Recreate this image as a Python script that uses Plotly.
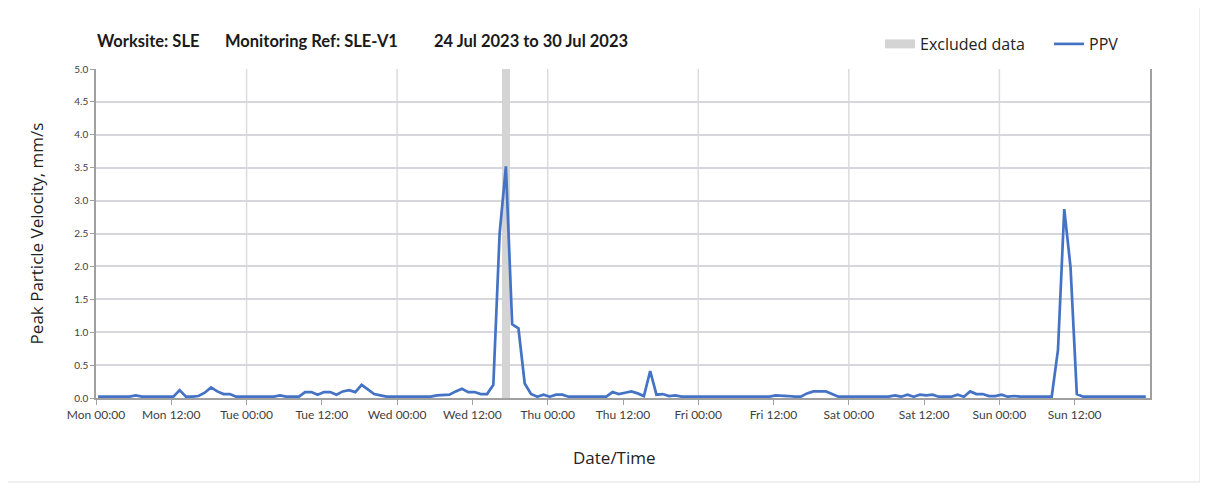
import plotly.graph_objects as go
import pandas as pd

# ---- data ----
start_time = "2023-07-24 00:20"
ppv = [
    0.02, 0.02, 0.02, 0.02, 0.02, 0.02, 0.04, 0.02, 0.02, 0.02, 0.02, 0.02,   # 0-11
    0.02, 0.12, 0.02, 0.02, 0.03, 0.08, 0.16, 0.10, 0.06, 0.06, 0.02, 0.02,   # 12-23
    0.02, 0.02, 0.02, 0.02, 0.02, 0.04, 0.02, 0.02, 0.02, 0.09, 0.09, 0.05,   # 24-35
    0.09, 0.09, 0.05, 0.10, 0.12, 0.09, 0.20, 0.13, 0.06, 0.04, 0.02, 0.02,   # 36-47
    0.02, 0.02, 0.02, 0.02, 0.02, 0.02, 0.04, 0.04, 0.05, 0.10, 0.14, 0.09,   # 48-59
    0.09, 0.06, 0.06, 0.20, 2.50, 3.52, 1.12, 1.06, 0.22, 0.06, 0.02, 0.05,   # 60-71
    0.02, 0.05, 0.05, 0.02, 0.02, 0.02, 0.02, 0.02, 0.02, 0.02, 0.09, 0.06,   # 72-83
    0.08, 0.10, 0.07, 0.03, 0.41, 0.05, 0.06, 0.03, 0.04, 0.02, 0.02, 0.02,   # 84-95
    0.02, 0.02, 0.02, 0.02, 0.02, 0.02, 0.02, 0.02, 0.02, 0.02, 0.02, 0.02,   # 96-107
    0.04, 0.04, 0.03, 0.02, 0.02, 0.07, 0.10, 0.10, 0.10, 0.06, 0.02, 0.02,   # 108-119
    0.02, 0.02, 0.02, 0.02, 0.02, 0.02, 0.02, 0.04, 0.02, 0.05, 0.02, 0.05,   # 120-131
    0.04, 0.05, 0.02, 0.02, 0.02, 0.05, 0.02, 0.10, 0.06, 0.06, 0.03, 0.03,   # 132-143
    0.05, 0.02, 0.03, 0.02, 0.02, 0.02, 0.02, 0.02, 0.02, 0.73, 2.87, 1.99,   # 144-155
    0.06, 0.02, 0.02, 0.02, 0.02, 0.02, 0.02, 0.02, 0.02, 0.02, 0.02, 0.02,   # 156-167
]
excluded_start = "2023-07-26 16:45"
excluded_end = "2023-07-26 18:00"
x_range = ["2023-07-24 00:00", "2023-07-31 00:00"]
y_max = 5.0
title_parts = ["Worksite: SLE", "Monitoring Ref: SLE-V1", "24 Jul 2023 to 30 Jul 2023"]
x_title = "Date/Time"
y_title = "Peak Particle Velocity, mm/s"

times = pd.date_range(start_time, periods=len(ppv), freq="h")
ex0 = pd.Timestamp(excluded_start)
ex1 = pd.Timestamp(excluded_end)
ex_mid = ex0 + (ex1 - ex0) / 2
ex_width_ms = (ex1 - ex0).total_seconds() * 1000
tick_vals = pd.date_range(x_range[0], x_range[1], freq="12h")[:-1]

GRAY_BAND = "#d4d4d4"

fig = go.Figure()
fig.add_trace(go.Bar(
    x=[ex_mid], y=[y_max], width=[ex_width_ms],
    marker=dict(color=GRAY_BAND, line=dict(width=0)),
    name="Excluded data", legendgroup="ex", showlegend=False, hoverinfo="skip",
))
# legend swatch for the excluded band
fig.add_trace(go.Scatter(
    x=[None], y=[None], mode="lines", name="Excluded data", legendgroup="ex",
    line=dict(color=GRAY_BAND, width=9), legend="legend",
))
fig.add_trace(go.Scatter(
    x=times, y=ppv, mode="lines", name="PPV",
    line=dict(color="#4472C4", width=2.7), legend="legend2",
))

# day-boundary gridlines
days = pd.date_range(x_range[0], x_range[1], freq="D")[1:-1]
for d in days:
    fig.add_shape(type="line", xref="x", yref="paper", x0=d, x1=d, y0=0, y1=1,
                  line=dict(color="#dcdcdc", width=1.5), layer="below")

# plot area: x 96..1150, y 69..398 in page pixels (page offset 8px)
PL, PT, PW, PH = 88, 61, 1054, 329
def px(xp):
    return (xp - 96) / PW
def py(yp):
    return (398 - yp) / PH

# outer frame
fig.add_shape(type="rect", xref="paper", yref="paper",
              x0=px(7), x1=px(1200), y0=py(482), y1=py(7),
              line=dict(color="#e0e0e0", width=1), layer="below")

title_x = [95, 223, 432]
for t, xx in zip(title_parts, title_x):
    fig.add_annotation(text="<b>" + t + "</b>", xref="paper", yref="paper",
                       x=px(xx), y=py(41), xanchor="left", yanchor="middle", showarrow=False,
                       font=dict(family="Lato", size=16.5, color="#1a1a1a"))

fig.add_annotation(text=x_title, xref="paper", yref="paper",
                   x=px(614), y=py(457), xanchor="center", yanchor="middle", showarrow=False,
                   font=dict(family="Open Sans", size=17, color="#222222"))

legend_common = dict(orientation="h", yanchor="middle", xanchor="left",
                     font=dict(family="Open Sans", size=16, color="#222222"),
                     itemwidth=30, tracegroupgap=0, bgcolor="rgba(0,0,0,0)")

fig.update_layout(
    width=1200, height=481,
    margin=dict(l=PL, r=1200 - PL - PW, t=PT, b=481 - PT - PH),
    plot_bgcolor="white", paper_bgcolor="white",
    barmode="overlay", bargap=0,
    showlegend=True,
    legend=dict(x=px(880), y=py(44), **legend_common),
    legend2=dict(x=px(1049), y=py(44), **legend_common),
    xaxis=dict(
        range=x_range, type="date",
        tickmode="array", tickvals=tick_vals, tickformat="%a %H:%M",
        showgrid=False, ticks="outside", ticklen=5, tickcolor="#a0a0a0",
        showline=True, linecolor="#a0a0a0", linewidth=1.5, mirror=False,
        tickfont=dict(family="Lato", size=12, color="#404040"),
        zeroline=False,
    ),
    yaxis=dict(
        range=[0, y_max], dtick=0.5, tickformat=".1f",
        showgrid=True, gridcolor="#d6d6dc", gridwidth=1.5,
        ticks="outside", ticklen=4, tickcolor="#a0a0a0",
        showline=True, linecolor="#a0a0a0", linewidth=1.5, mirror=True,
        tickfont=dict(family="Lato", size=10, color="#404040"),
        title=dict(text=y_title, font=dict(family="Open Sans", size=17, color="#222222"), standoff=26),
        zeroline=False,
    ),
)

fig.write_html("out.html")
